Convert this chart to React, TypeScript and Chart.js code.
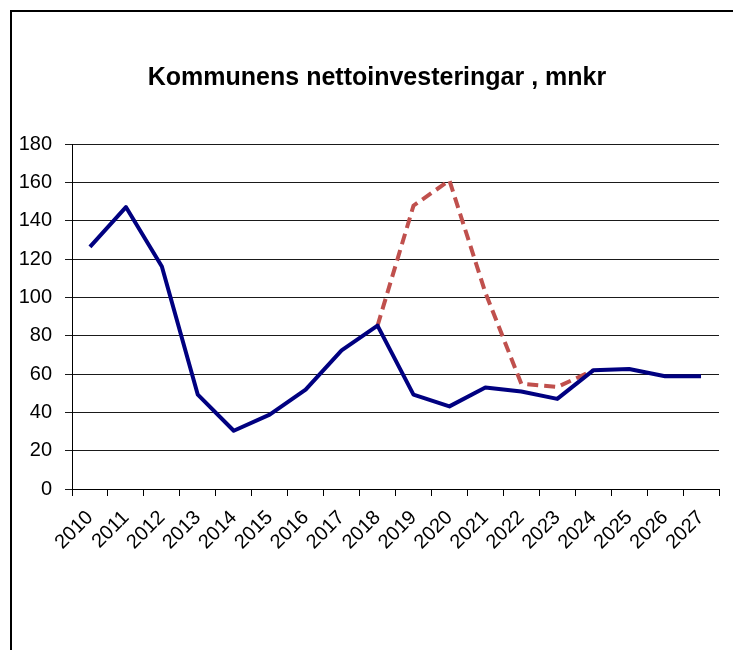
import React, { useEffect, useRef } from "react";
import { Chart, registerables } from "chart.js";

Chart.register(...registerables);

const years = ["2010","2011","2012","2013","2014","2015","2016","2017","2018","2019","2020","2021","2022","2023","2024","2025","2026","2027"];
const actual = [126.3, 147.1, 116.1, 49.2, 30.4, 38.8, 51.8, 72.3, 85.2, 49.2, 43.1, 53.0, 50.9, 47.0, 61.9, 62.6, 58.8, 58.8];
const alternative = [null, null, null, null, null, null, null, null, 85.2, 147.8, 161.0, 102.5, 54.9, 53.2, 61.9, null, null, null];
const titleText = "Kommunens nettoinvesteringar , mnkr";
const yMin = 0;
const yMax = 180;
const yStep = 20;

const FONT = '"Liberation Sans", Arial, sans-serif';

const titlePlugin = {
  id: "customTitle",
  afterDraw(chart: any) {
    const ctx = chart.ctx;
    ctx.save();
    ctx.font = `bold 25px ${FONT}`;
    ctx.fillStyle = "#000";
    ctx.textAlign = "center";
    ctx.textBaseline = "middle";
    ctx.fillText(titleText, 377, 78);
    ctx.restore();
  },
};

export default function App() {
  const ref = useRef<HTMLCanvasElement>(null);
  useEffect(() => {
    if (!ref.current) return;
    const chart = new Chart(ref.current, {
      type: "line",
      data: {
        labels: years,
        datasets: [
          {
            label: "Nettoinvesteringar",
            data: actual,
            borderColor: "#000080",
            backgroundColor: "#000080",
            borderWidth: 4,
            pointRadius: 0,
            tension: 0,
            borderJoinStyle: "round",
          },
          {
            label: "Alternativ",
            data: alternative as any,
            borderColor: "#C0504D",
            backgroundColor: "#C0504D",
            borderWidth: 4,
            borderDash: [11, 6],
            pointRadius: 0,
            tension: 0,
            spanGaps: false,
          },
        ],
      },
      options: {
        responsive: false,
        animation: false,
        layout: { padding: { top: 144, right: 14, left: 0, bottom: 0 } },
        plugins: {
          legend: { display: false },
          title: { display: false },
          tooltip: { enabled: false },
        },
        scales: {
          x: {
            offset: true,
            afterFit(scale: any) {
              scale.height = 161;
            },
            grid: {
              offset: true,
              display: true,
              drawOnChartArea: false,
              drawTicks: true,
              tickLength: 7,
              color: "#000",
            },
            border: { display: true, color: "#000", width: 1 },
            ticks: {
              autoSkip: false,
              minRotation: 45,
              maxRotation: 45,
              color: "#000",
              padding: 10,
              font: { family: FONT, size: 20 },
            },
          },
          y: {
            min: yMin,
            max: yMax,
            afterFit(scale: any) {
              scale.width = 72;
            },
            grid: {
              color: "#1a1a1a",
              lineWidth: 1,
              drawTicks: true,
              tickLength: 7,
            },
            border: { display: true, color: "#000", width: 1 },
            ticks: {
              stepSize: yStep,
              color: "#000",
              padding: 13,
              font: { family: FONT, size: 20 },
            },
          },
        },
      },
      plugins: [titlePlugin],
    });
    return () => chart.destroy();
  }, []);

  return (
    <div style={{ position: "fixed", left: 0, top: 0, width: 733, height: 650, overflow: "hidden", background: "#fff" }}>
      <div style={{ position: "absolute", left: 10, top: 10, width: 760, height: 700, border: "2px solid #000", boxSizing: "border-box" }} />
      <canvas ref={ref} width={733} height={650} style={{ position: "absolute", left: 0, top: 0, display: "block" }} />
    </div>
  );
}
